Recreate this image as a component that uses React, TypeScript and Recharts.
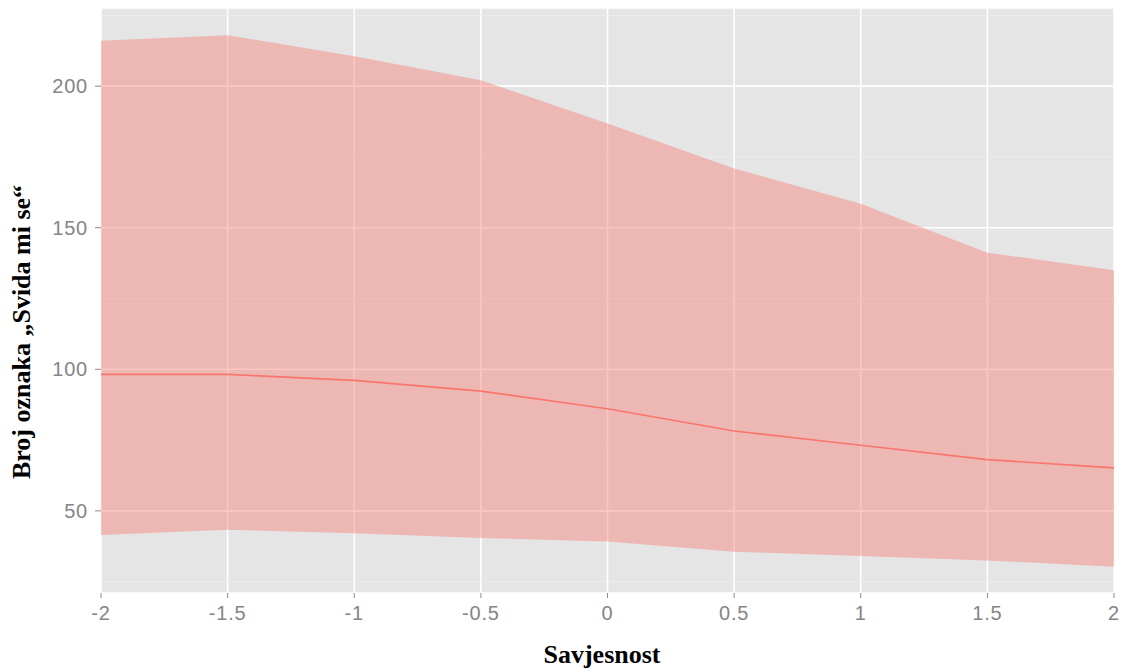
import React from "react";
import { ComposedChart, Area, Line, XAxis, YAxis, CartesianGrid } from "recharts";

const xValues = [-2, -1.5, -1, -0.5, 0, 0.5, 1, 1.5, 2];
const fitValues = [98.2, 98.2, 96.1, 92.3, 86.1, 78.2, 73.2, 68.1, 65.2];
const lowerValues = [41.5, 43.3, 42.1, 40.4, 39.2, 35.6, 34.1, 32.5, 30.3];
const upperValues = [216.0, 218.0, 210.6, 202.1, 186.8, 170.9, 158.5, 141.2, 135.0];

const xTicks = [-2, -1.5, -1, -0.5, 0, 0.5, 1, 1.5, 2];
const yTicks = [50, 100, 150, 200];
const yMinorTicks = [25, 75, 125, 175, 225];
const yDomain = [21, 227.6];

const data = xValues.map((x, i) => ({
  x,
  fit: fitValues[i],
  band: [lowerValues[i], upperValues[i]],
}));

const tickStyle = {
  fill: "#858585",
  fontSize: 20,
  letterSpacing: 0.8,
  fontFamily: "Liberation Sans, Arial, sans-serif",
};

function minorY(props: any): number[] {
  const s = props?.yAxis?.scale;
  return yMinorTicks.map((v) => {
    if (typeof s === "function") return s(v);
    if (s && typeof s.map === "function") return s.map(v);
    const off = props.offset;
    return off.top + (off.height * (yDomain[1] - v)) / (yDomain[1] - yDomain[0]);
  });
}

export default function App() {
  return (
    <div style={{ position: "absolute", left: 0, top: 0, width: 1126, height: 672, background: "#fff" }}>
      <ComposedChart
        width={1126}
        height={672}
        data={data}
        margin={{ top: 8, right: 12, bottom: 0, left: 0 }}
      >
        <CartesianGrid
          fill="#E5E5E5"
          stroke="#FFFFFF"
          strokeWidth={1.6}
          horizontal
          vertical
        />
        <CartesianGrid
          fill="none"
          stroke="#F0F0F0"
          strokeWidth={0.8}
          vertical={false}
          horizontalCoordinatesGenerator={minorY}
        />
        <XAxis
          dataKey="x"
          type="number"
          domain={[-2, 2]}
          ticks={xTicks}
          height={79}
          axisLine={false}
          tickLine={{ stroke: "#8a8a8a", strokeWidth: 1 }}
          tickSize={5}
          tickMargin={8}
          tick={tickStyle}
          interval={0}
          allowDataOverflow
        />
        <YAxis
          type="number"
          domain={yDomain}
          ticks={yTicks}
          width={101}
          axisLine={false}
          tickLine={{ stroke: "#8a8a8a", strokeWidth: 1 }}
          tickSize={6}
          tickMargin={7}
          tick={tickStyle}
          interval={0}
          allowDataOverflow
        />
        <Area
          dataKey="band"
          type="linear"
          stroke="none"
          fill="#F8766D"
          fillOpacity={0.42}
          isAnimationActive={false}
          activeDot={false}
        />
        <Line
          dataKey="fit"
          type="linear"
          stroke="#F8766D"
          strokeWidth={1.6}
          dot={false}
          activeDot={false}
          isAnimationActive={false}
        />
      </ComposedChart>
      <div
        style={{
          position: "absolute",
          left: 602,
          top: 655,
          transform: "translate(-50%, -50%)",
          fontFamily: "Liberation Serif, Times New Roman, serif",
          fontWeight: "bold",
          fontSize: 26,
          color: "#000",
          whiteSpace: "nowrap",
        }}
      >
        Savjesnost
      </div>
      <div
        style={{
          position: "absolute",
          left: 22,
          top: 332,
          transform: "translate(-50%, -50%) rotate(-90deg)",
          fontFamily: "Liberation Serif, Times New Roman, serif",
          fontWeight: "bold",
          fontSize: 26,
          color: "#000",
          whiteSpace: "nowrap",
        }}
      >
        Broj oznaka „Svida mi se“
      </div>
    </div>
  );
}
